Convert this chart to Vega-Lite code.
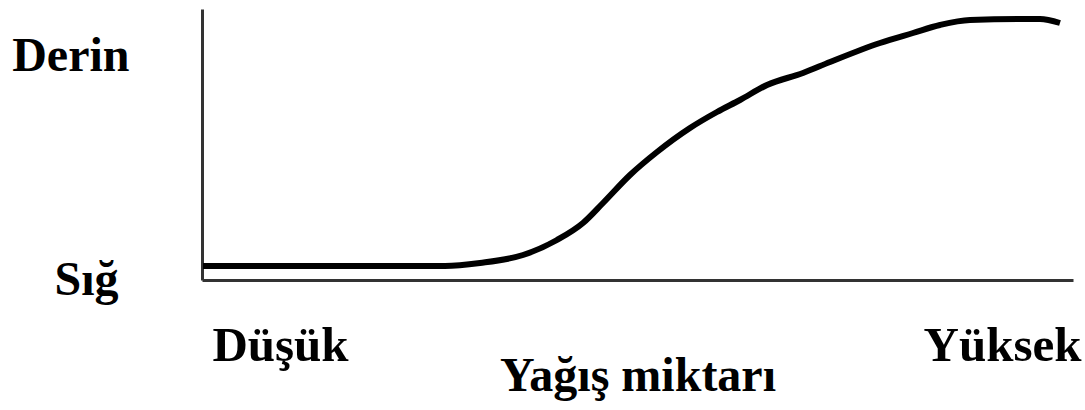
{
  "$schema": "https://vega.github.io/schema/vega-lite/v6.json",
  "width": 871,
  "height": 271,
  "autosize": "none",
  "padding": {"left": 202, "top": 9, "right": 12, "bottom": 121},
  "background": "white",
  "config": {"view": {"stroke": null}},
  "data": {"values": [
    {"x": 1, "y": 14}, {"x": 243, "y": 14}, {"x": 278, "y": 17}, {"x": 321, "y": 25},
    {"x": 355, "y": 40}, {"x": 381, "y": 57}, {"x": 401, "y": 77}, {"x": 428, "y": 105},
    {"x": 455, "y": 128}, {"x": 488, "y": 152}, {"x": 515, "y": 168}, {"x": 538, "y": 180},
    {"x": 565, "y": 195}, {"x": 601, "y": 207}, {"x": 628, "y": 218}, {"x": 678, "y": 237},
    {"x": 711, "y": 247}, {"x": 738, "y": 255}, {"x": 768, "y": 260}, {"x": 838, "y": 261},
    {"x": 858, "y": 257}
  ]},
  "mark": {"type": "line", "color": "black", "strokeWidth": 6, "interpolate": "monotone", "strokeCap": "butt"},
  "encoding": {
    "x": {
      "field": "x", "type": "quantitative",
      "scale": {"domain": [0, 871], "nice": false, "zero": false},
      "axis": {
        "values": [78, 800],
        "labelExpr": "datum.value < 400 ? 'Düşük' : 'Yüksek'",
        "ticks": false, "grid": false,
        "domainColor": "#333333", "domainWidth": 3,
        "labelFont": "Liberation Serif", "labelFontSize": 49, "labelFontWeight": "bold", "labelColor": "black",
        "labelPadding": 41, "labelBaseline": "top", "labelAlign": "center", "labelFlush": false, "labelOverlap": false,
        "title": "Yağış miktarı",
        "titleFont": "Liberation Serif", "titleFontSize": 48, "titleFontWeight": "bold", "titleColor": "black",
        "titlePadding": -18
      }
    },
    "y": {
      "field": "y", "type": "quantitative",
      "scale": {"domain": [0, 271], "nice": false, "zero": false},
      "axis": {
        "values": [0, 224],
        "labelExpr": "datum.value > 100 ? 'Derin' : 'Sığ'",
        "ticks": false, "grid": false,
        "domainColor": "#333333", "domainWidth": 3,
        "labelFont": "Liberation Serif", "labelFontSize": 48, "labelFontWeight": "bold", "labelColor": "black",
        "labelPadding": {"expr": "datum.value > 100 ? 73 : 84"},
        "labelAlign": "right", "labelBaseline": "middle", "labelFlush": false, "labelOverlap": false,
        "title": null
      }
    }
  }
}
